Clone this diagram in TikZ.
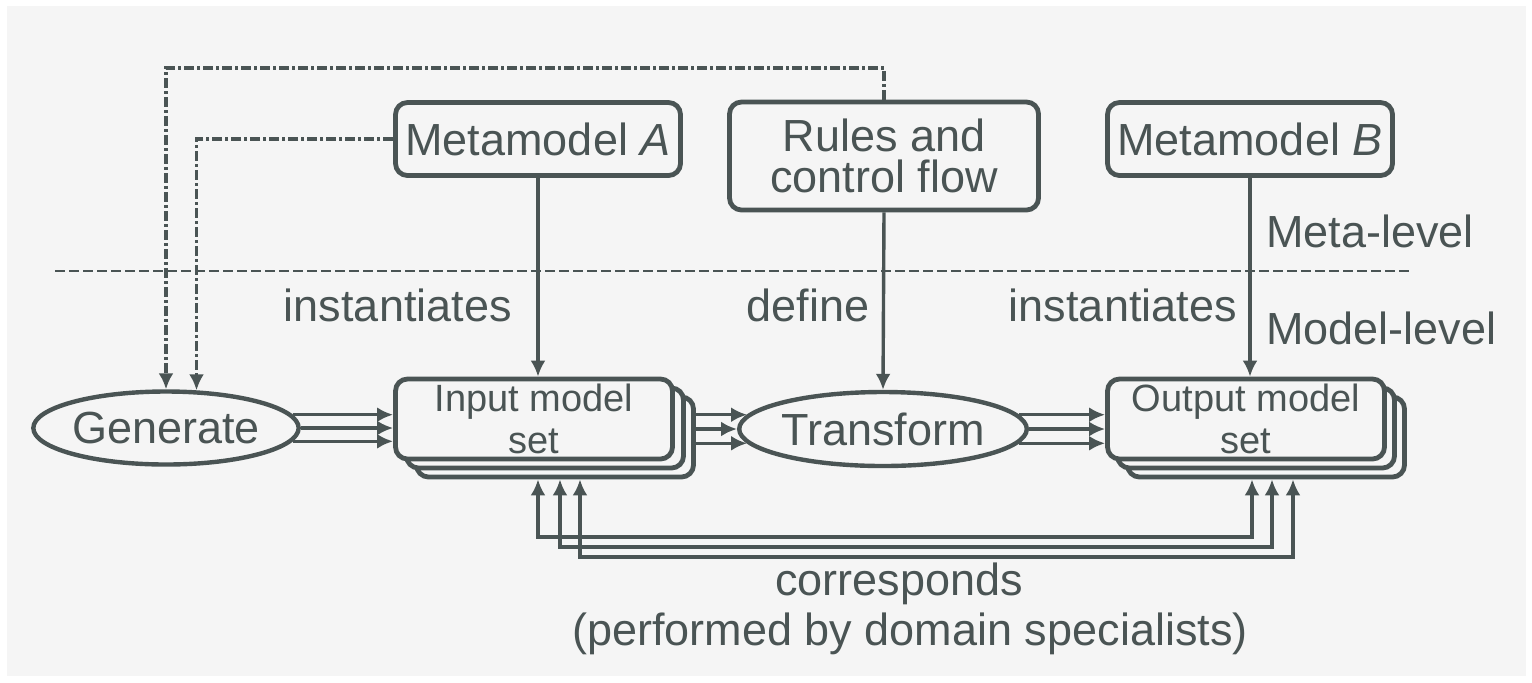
\documentclass[tikz,border=0pt]{standalone}
\usepackage{fontspec}
\setmainfont{Liberation Sans}
\usetikzlibrary{arrows.meta,shapes.geometric,calc}
\definecolor{ink}{HTML}{4A5454}
\definecolor{bg}{HTML}{F5F5F5}
\begin{document}
\begin{tikzpicture}[x=0.5pt,y=-0.5pt,
  lbl/.style={font=\fontsize{22.5}{20.5}\selectfont, text=ink, inner sep=0pt},
  box/.style={lbl, draw=ink, line width=2.4pt, rounded corners=6pt, fill=bg, align=center},
  setbox/.style={box, font=\fontsize{19}{21.4}\selectfont, minimum width=138.5pt, minimum height=40pt},
  oval/.style={lbl, ellipse, draw=ink, line width=2.2pt, fill=bg},
  tip/.style={-{Latex[length=8pt,width=7.5pt]}},
  arr/.style={draw=ink, line width=1.7pt, tip},
  both/.style={draw=ink, line width=1.8pt, {Latex[length=8pt,width=7.5pt]}-{Latex[length=8pt,width=7.5pt]}},
  dd/.style={draw=ink, line width=1.6pt, dash pattern=on 5pt off 1.5pt on 1.5pt off 1.5pt, tip},
  level/.style={draw=ink, line width=1.4pt, dash pattern=on 5pt off 2pt}
]
\useasboundingbox (0,0) rectangle (1532,682);
\fill[white] (0,0) rectangle (1532,682);
\fill[bg] (7,6) rectangle (1526,676);

% meta-level boxes
\node[box, minimum width=142.5pt, minimum height=36.5pt] (mA) at (538,139) {Metamodel \textit{A}};
\node[box, minimum width=154.5pt, minimum height=54pt] (rules) at (884,156) {Rules and\\control flow};
\node[box, minimum width=142.5pt, minimum height=36.5pt] (mB) at (1250,139) {Metamodel \textit{B}};

% model-level nodes
\node[oval, minimum width=119pt, minimum height=36.5pt] (gen) at (166,428) {Generate};
\node[oval, minimum width=115.5pt, minimum height=37pt] (trans) at (883,429) {Transform};

\node[setbox] (inC) at (555,437) {};
\node[setbox] (inB) at (545,428) {};
\node[setbox] (inA) at (534,419) {Input model\\set};

\node[setbox] (outC) at (1266,437) {};
\node[setbox] (outB) at (1256,428) {};
\node[setbox] (outA) at (1246,419) {Output model\\set};

% level separator
\coordinate (sepL) at (55,271);
\coordinate (sepR) at (1410,271);
\draw[level] (sepL) -- (sepR);

% labels
\node[lbl, anchor=base west] (meta) at (1266,247) {Meta-level};
\node[lbl, anchor=base west] (model) at (1266,344) {Model-level};
\node[lbl, anchor=base east] (inst1) at (512,321) {instantiates};
\node[lbl, anchor=base] (def) at (808,321) {define};
\node[lbl, anchor=base east] (inst2) at (1237,321) {instantiates};
\node[lbl, anchor=base] (corr) at (899,595) {corresponds};
\node[lbl, anchor=base] (perf) at (910,645) {(performed by domain specialists)};

% vertical arrows
\draw[arr] (mA.south) -- (mA.south |- inA.north);
\draw[arr] (rules.south) -- (trans.north);
\draw[arr] (mB.south) -- (mB.south |- outA.north);

% dash-dot feedback to Generate
\coordinate (top) at (166,68);
\draw[dd] (rules.north) |- (top) -- (gen.north);
\draw[dd] (mA.west) -| (gen.51);

% triple arrows
\foreach \a in {6,0,-6} \draw[arr] (gen.\a) -- (gen.\a -| inA.west);
\foreach \a in {174,180,186} \draw[arr] (trans.\a -| inC.east) -- (trans.\a);
\foreach \a in {6,0,-6} \draw[arr] (trans.\a) -- (trans.\a -| outA.west);

% corresponds
\coordinate (c1) at (538,537); \coordinate (d1) at (1252,537);
\coordinate (c2) at (560,547); \coordinate (d2) at (1272,547);
\coordinate (c3) at (580,557); \coordinate (d3) at (1293,557);
\draw[both] (c1 |- inC.south) -- (c1) -- (d1) -- (d1 |- outC.south);
\draw[both] (c2 |- inC.south) -- (c2) -- (d2) -- (d2 |- outC.south);
\draw[both] (c3 |- inC.south) -- (c3) -- (d3) -- (d3 |- outC.south);
\end{tikzpicture}
\end{document}
